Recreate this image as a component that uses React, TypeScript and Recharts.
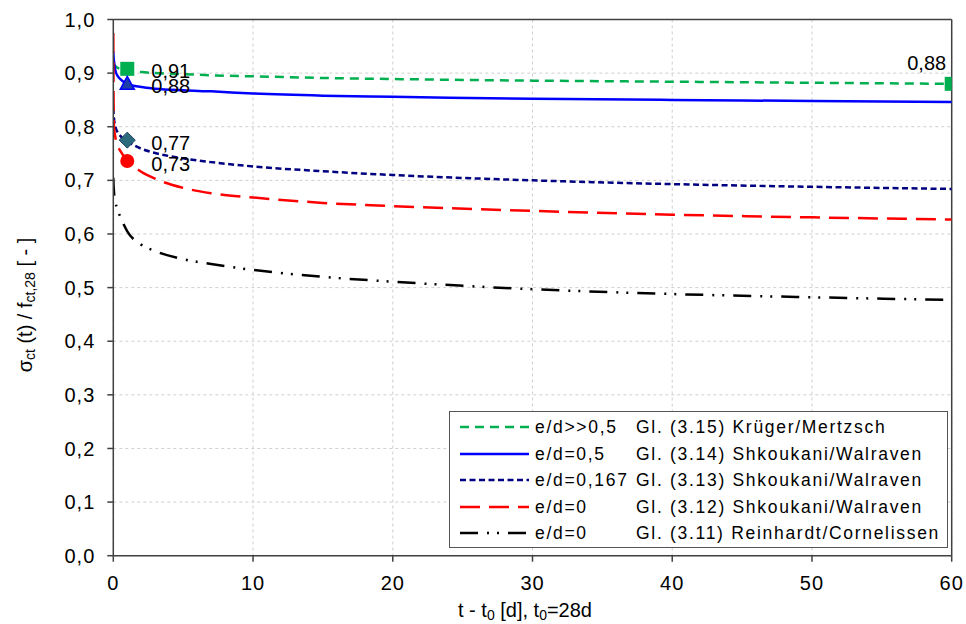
import React from "react";
import {
  ComposedChart,
  Line,
  Scatter,
  XAxis,
  YAxis,
  CartesianGrid,
  ReferenceLine,
  Label,
} from "recharts";

// time after loading t - t0 [d]
const T_DAYS = [0, 0.02, 0.05, 0.15, 0.3, 0.5, 1, 2, 3, 5, 7, 10, 15, 20, 30, 40, 50, 60];

// sigma_ct(t) / f_ct,28 per equation
const KRUEGER_315 = [0.92, 0.918, 0.916, 0.913, 0.91, 0.908, 0.905, 0.902, 0.9, 0.898, 0.896, 0.894, 0.891, 0.889, 0.886, 0.884, 0.882, 0.88];
const SHK_314 = [0.94, 0.93, 0.922, 0.905, 0.895, 0.889, 0.88, 0.874, 0.871, 0.868, 0.866, 0.862, 0.858, 0.856, 0.852, 0.85, 0.848, 0.846];
const SHK_313 = [0.835, 0.825, 0.815, 0.8, 0.79, 0.783, 0.773, 0.759, 0.751, 0.741, 0.734, 0.726, 0.717, 0.71, 0.7, 0.693, 0.688, 0.684];
const SHK_312 = [0.975, 0.85, 0.8, 0.78, 0.765, 0.755, 0.737, 0.716, 0.703, 0.686, 0.676, 0.668, 0.658, 0.652, 0.643, 0.636, 0.631, 0.627];
const REIN_311 = [0.705, 0.69, 0.678, 0.66, 0.645, 0.632, 0.605, 0.58, 0.568, 0.553, 0.544, 0.533, 0.52, 0.511, 0.497, 0.488, 0.482, 0.477];

// highlighted points with their labels
const GREEN_MARK_T = [1, 60];
const GREEN_MARK_V = [0.908, 0.88];
const GREEN_MARK_LABEL = ["0,91", "0,88"];
const BLUE_MARK_T = [1];
const BLUE_MARK_V = [0.881];
const BLUE_MARK_LABEL = ["0,88"];
const TEAL_MARK_T = [1];
const TEAL_MARK_V = [0.775];
const TEAL_MARK_LABEL = ["0,77"];
const RED_MARK_T = [1];
const RED_MARK_V = [0.736];
const RED_MARK_LABEL = ["0,73"];

const X_TICKS = [0, 10, 20, 30, 40, 50, 60];
const Y_TICKS = [0, 0.1, 0.2, 0.3, 0.4, 0.5, 0.6, 0.7, 0.8, 0.9, 1.0];

const LEGEND_CASE = ["e/d>>0,5", "e/d=0,5", "e/d=0,167", "e/d=0", "e/d=0"];
const LEGEND_EQ = [
  "Gl. (3.15) Krüger/Mertzsch",
  "Gl. (3.14) Shkoukani/Walraven",
  "Gl. (3.13) Shkoukani/Walraven",
  "Gl. (3.12) Shkoukani/Walraven",
  "Gl. (3.11) Reinhardt/Cornelissen",
];

const SERIES = [
  { key: "k315", color: "#00b050", dash: "9 6", width: 2.5 },
  { key: "s314", color: "#0000ff", dash: undefined, width: 2.5 },
  { key: "s313", color: "#000080", dash: "6 3.5", width: 2.5 },
  { key: "s312", color: "#ff0000", dash: "20 9", width: 2.5 },
  { key: "r311", color: "#000000", dash: "18 9 2 8 2 9", width: 2.5 },
];

const data = T_DAYS.map((t, i) => ({
  t,
  k315: KRUEGER_315[i],
  s314: SHK_314[i],
  s313: SHK_313[i],
  s312: SHK_312[i],
  r311: REIN_311[i],
}));

const toPoints = (ts: number[], vs: number[], labels: string[]) =>
  ts.map((t, i) => ({ t, v: vs[i], label: labels[i] }));

const FONT = '"Liberation Sans", Arial, sans-serif';
const AXIS = "#404040";

function pointLabel(cx: number, cy: number, p: any) {
  if (p.t >= 60) {
    return (
      <text x={cx - 25} y={cy - 21} textAnchor="middle" dominantBaseline="central" fontSize={20} fill="#000">
        {p.label}
      </text>
    );
  }
  return (
    <text x={cx + 24} y={cy + 2.5} dominantBaseline="central" fontSize={20} fill="#000">
      {p.label}
    </text>
  );
}

const squareShape = (p: any) => (
  <g>
    <rect x={p.cx - 7} y={p.cy - 7} width={14} height={14} fill="#00b050" />
    {pointLabel(p.cx, p.cy, p.payload)}
  </g>
);
const triangleShape = (p: any) => (
  <g>
    <path
      d={`M${p.cx},${p.cy - 7} L${p.cx + 7},${p.cy + 6} L${p.cx - 7},${p.cy + 6} Z`}
      fill="#1f3fa8"
      stroke="#0000ff"
      strokeWidth={1.5}
    />
    {pointLabel(p.cx, p.cy, p.payload)}
  </g>
);
const diamondShape = (p: any) => (
  <g>
    <path
      d={`M${p.cx},${p.cy - 8} L${p.cx + 8},${p.cy} L${p.cx},${p.cy + 8} L${p.cx - 8},${p.cy} Z`}
      fill="#2c6b7e"
      stroke="#1d3f5a"
      strokeWidth={1}
    />
    {pointLabel(p.cx, p.cy, p.payload)}
  </g>
);
const circleShape = (p: any) => (
  <g>
    <circle cx={p.cx} cy={p.cy} r={7} fill="#ff0000" />
    {pointLabel(p.cx, p.cy, p.payload)}
  </g>
);

const yTitle = () => (
  <text
    x={25}
    y={305}
    transform="rotate(-90 25 305)"
    textAnchor="middle"
    dominantBaseline="central"
    fontSize={20}
    fill="#000"
  >
    σ<tspan fontSize={14} dy={5}>ct</tspan>
    <tspan dy={-5}> (t) / f</tspan>
    <tspan fontSize={14} dy={5}>ct,28</tspan>
    <tspan dy={-5}> [ - ]</tspan>
  </text>
);

const xTitle = () => (
  <text x={525} y={610} textAnchor="middle" dominantBaseline="central" fontSize={20} fill="#000">
    t - t<tspan fontSize={14} dy={5}>0</tspan>
    <tspan dy={-5}> [d], t</tspan>
    <tspan fontSize={14} dy={5}>0</tspan>
    <tspan dy={-5}>=28d</tspan>
  </text>
);

function LegendBox() {
  return (
    <div
      style={{
        position: "absolute",
        left: 449,
        top: 411,
        width: 499,
        height: 137,
        boxSizing: "border-box",
        border: "1.5px solid #555",
        background: "#fff",
        paddingTop: 2,
        fontSize: 17.5,
        letterSpacing: 1.7,
      }}
    >
      {SERIES.map((s, i) => (
        <div key={s.key} style={{ position: "relative", height: 26.6, lineHeight: "26.6px", whiteSpace: "nowrap" }}>
          <svg width={69} height={10} style={{ position: "absolute", left: 10, top: 8 }}>
            <line x1={0} y1={5} x2={69} y2={5} stroke={s.color} strokeWidth={2.5} strokeDasharray={s.dash} />
          </svg>
          <span style={{ position: "absolute", left: 85 }}>{LEGEND_CASE[i]}</span>
          <span style={{ position: "absolute", left: 186 }}>{LEGEND_EQ[i]}</span>
        </div>
      ))}
    </div>
  );
}

export default function App() {
  const tick = { fontSize: 20, fill: "#000", letterSpacing: 1 };
  return (
    <div style={{ position: "absolute", left: 0, top: 0, width: 966, height: 624, fontFamily: FONT, background: "#fff" }}>
      <ComposedChart width={966} height={624} data={data} margin={{ top: 19.5, right: 14.3, bottom: 28.3, left: 0 }}>
        <CartesianGrid stroke="#cfcfcf" strokeDasharray="3 3" />
        <XAxis
          dataKey="t"
          type="number"
          domain={[0, 60]}
          ticks={X_TICKS}
          height={40}
          stroke={AXIS}
          strokeWidth={1.5}
          tickSize={6}
          tickMargin={14}
          tick={tick}
          allowDataOverflow
        >
          <Label content={xTitle} />
        </XAxis>
        <YAxis
          type="number"
          domain={[0, 1]}
          ticks={Y_TICKS}
          width={113.3}
          stroke={AXIS}
          strokeWidth={1.5}
          tickSize={6}
          tickMargin={12}
          tick={tick}
          tickFormatter={(v: number) => v.toFixed(1).replace(".", ",")}
        >
          <Label content={yTitle} />
        </YAxis>
        <ReferenceLine y={1} stroke={AXIS} strokeWidth={1.5} />
        <ReferenceLine x={60} stroke={AXIS} strokeWidth={1.5} />
        {SERIES.map((s) => (
          <Line
            key={s.key}
            dataKey={s.key}
            type="monotone"
            stroke={s.color}
            strokeWidth={s.width}
            strokeDasharray={s.dash}
            dot={false}
            activeDot={false}
            isAnimationActive={false}
          />
        ))}
        <Scatter data={toPoints(GREEN_MARK_T, GREEN_MARK_V, GREEN_MARK_LABEL)} dataKey="v" shape={squareShape} isAnimationActive={false} />
        <Scatter data={toPoints(BLUE_MARK_T, BLUE_MARK_V, BLUE_MARK_LABEL)} dataKey="v" shape={triangleShape} isAnimationActive={false} />
        <Scatter data={toPoints(TEAL_MARK_T, TEAL_MARK_V, TEAL_MARK_LABEL)} dataKey="v" shape={diamondShape} isAnimationActive={false} />
        <Scatter data={toPoints(RED_MARK_T, RED_MARK_V, RED_MARK_LABEL)} dataKey="v" shape={circleShape} isAnimationActive={false} />
      </ComposedChart>
      <LegendBox />
    </div>
  );
}
